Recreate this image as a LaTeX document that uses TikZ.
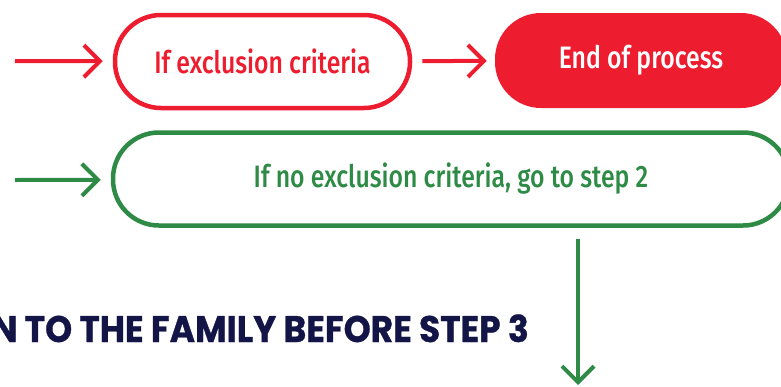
\documentclass[tikz,border=0pt]{standalone}
\usepackage{fontspec}
\usetikzlibrary{arrows.meta}

\newfontfamily\boxfont{Fira Sans}[UprightFont=* Medium, FakeStretch=0.8]
\newfontfamily\headfont{Poppins}[FakeStretch=0.93, BoldFeatures={FakeBold=0.8}]

\definecolor{exred}{RGB}{237,28,46}
\definecolor{exgreen}{RGB}{46,139,70}
\definecolor{exnavy}{RGB}{19,21,71}

\begin{document}
\begin{tikzpicture}[x=1pt,y=-1pt]

        \clip (0,0) rectangle (781,386);

        \coordinate (1) at (15,61);
        \coordinate (4) at (15,180);
        \coordinate (6) at (578,385);

        \begin{scope}[every node/.style={rectangle, rounded corners=46pt, minimum height=93pt,
            line width=4.5pt, inner sep=0pt, font=\boxfont\fontsize{31}{36}\selectfont}]
          \node[draw=exred, text=exred, minimum width=295pt] (2) at (262.5,61.5) {If exclusion criteria};
          \node[fill=exred, text=white, minimum width=292pt, minimum height=95pt] (3) at (641,60.5) {End of process};
          \node[draw=exgreen, text=exgreen, minimum width=676pt] (5) at (451,179) {If no exclusion criteria, go to step 2};
        \end{scope}

        \node[anchor=base east, inner sep=0pt, text=exnavy,
          font=\headfont\bfseries\fontsize{37}{42}\selectfont] (7) at (529,342) {N TO THE FAMILY BEFORE STEP 3};

        \begin{scope}[every edge/.style={draw, line width=4pt, -{Straight Barb[length=16pt,width=32pt]}}]
          \path (1) edge[exred, shorten >=10pt] (2);
          \path (2) edge[exred, shorten <=10pt, shorten >=6pt] (3);
          \path (4) edge[exgreen, shorten >=10pt] (5);
          \path (5.south -| 6) edge[exgreen, shorten <=11pt] (6);
        \end{scope}

      \end{tikzpicture}
\end{document}
